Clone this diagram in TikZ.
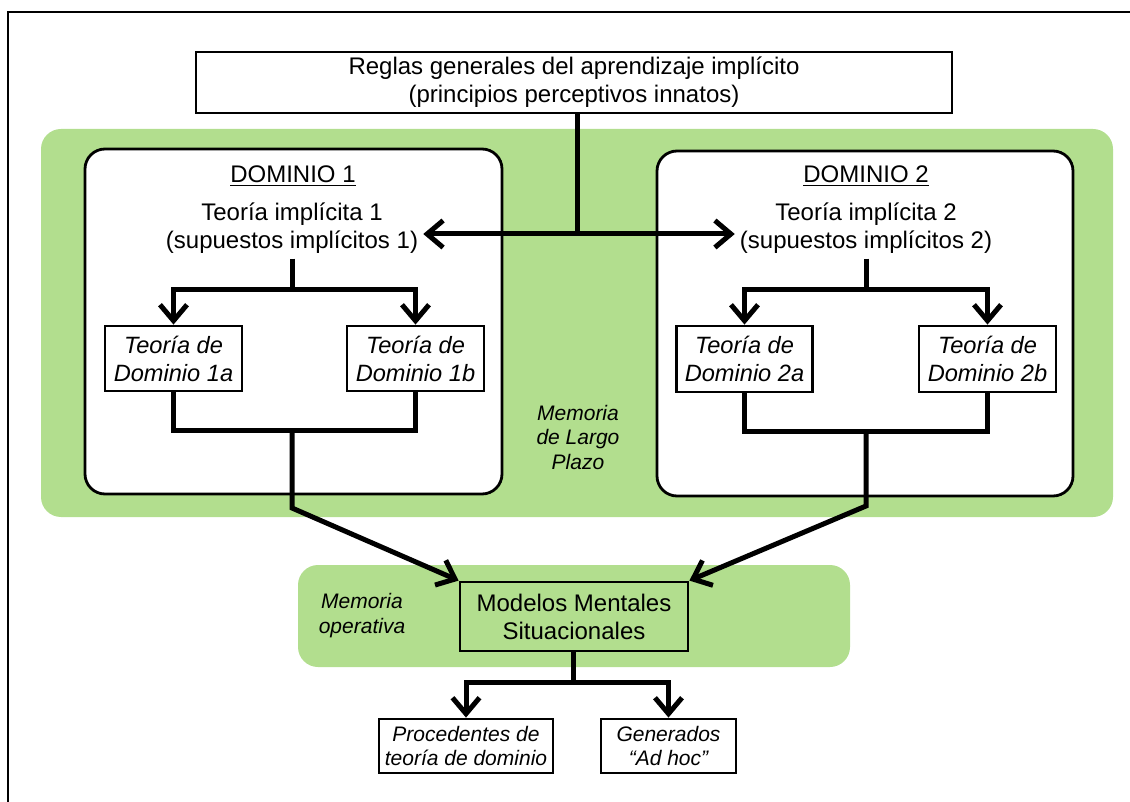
\documentclass[tikz,border=0pt]{standalone}
\usepackage{fontspec}
\setmainfont{Liberation Sans}
\usetikzlibrary{arrows.meta}
\definecolor{memgreen}{RGB}{178,222,142}
\newcommand{\ulined}[1]{\leavevmode\vtop{\hbox{#1}\kern2.2pt\hrule height 1.6pt}}
\begin{document}
\begin{tikzpicture}[x=1pt,y=-1pt,
  boxed/.style={draw, line width=2.8pt, inner sep=0pt, align=center},
  memregion/.style={fill=memgreen, rounded corners=20pt, inner sep=0pt},
  domframe/.style={draw, fill=white, line width=2.8pt, rounded corners=20pt, inner sep=0pt},
  conn/.style={line width=5pt},
  arr/.style={conn, -{Straight Barb[length=16pt,width=27pt]}},
  bigtxt/.style={font=\fontsize{24}{28}\selectfont},
  bigit/.style={font=\fontsize{23.6}{28}\selectfont\itshape},
  italtxt/.style={font=\fontsize{21}{24.5}\selectfont\itshape},
  freetxt/.style={inner sep=5pt, align=center},
]
\useasboundingbox (0,0) rectangle (1130,802);
\clip (0,0) rectangle (1130,802);
% outer frame
\draw[line width=2.8pt] (8,12) rectangle (1140,815);

% regions
\node[memregion, minimum width=1072pt, minimum height=388pt] (ltm) at (577,323) {};
\node[memregion, minimum width=552pt, minimum height=102pt] (wm) at (574,616) {};

% top box
\node[boxed, bigtxt, minimum width=756pt, minimum height=61pt] (rules) at (574,82.5)
  {Reglas generales del aprendizaje implícito\\(principios perceptivos innatos)};

% domain frames
\node[domframe, minimum width=417pt, minimum height=345pt] (dom1) at (293.5,321.5) {};
\node[domframe, minimum width=416pt, minimum height=345pt] (dom2) at (865,323.5) {};

% domain titles
\node[freetxt, bigtxt, inner sep=0pt] (t1) at (293,176) {\ulined{DOMINIO 1}};
\node[freetxt, bigtxt, inner sep=0pt] (t2) at (866,176) {\ulined{DOMINIO 2}};

% implicit theories
\node[freetxt, bigtxt] (ti1) at (292,228) {Teoría implícita 1\\(supuestos implícitos 1)};
\node[freetxt, bigtxt] (ti2) at (866,228) {Teoría implícita 2\\(supuestos implícitos 2)};

% domain theory boxes
\node[boxed, bigit, minimum width=137pt, minimum height=65pt] (d1a) at (173.5,358.5) {Teoría de\\Dominio 1a};
\node[boxed, bigit, minimum width=137pt, minimum height=65pt] (d1b) at (415.5,358.5) {Teoría de\\Dominio 1b};
\node[boxed, bigit, minimum width=136pt, minimum height=66pt] (d2a) at (744.5,359) {Teoría de\\Dominio 2a};
\node[boxed, bigit, minimum width=137pt, minimum height=66pt] (d2b) at (987.5,359) {Teoría de\\Dominio 2b};

% labels
\node[freetxt, italtxt] (ltmlabel) at (578,437) {Memoria\\de Largo\\Plazo};
\node[freetxt, italtxt] (wmlabel) at (362,615.5) {Memoria\\operativa};

% mental models
\node[boxed, bigtxt, fill=memgreen, minimum width=228pt, minimum height=69pt] (mm) at (574,616.5)
  {Modelos Mentales\\Situacionales};

% bottom boxes
\node[boxed, italtxt, minimum width=174pt, minimum height=54pt] (pr) at (466,746)
  {Procedentes de\\teoría de dominio};
\node[boxed, italtxt, minimum width=135pt, minimum height=54pt] (ad) at (668.5,746)
  {Generados\\“Ad hoc”};

% junction coordinates
\coordinate (jt) at (577,234);
\coordinate (b1) at (292,290);
\coordinate (b2) at (866,290);
\coordinate (m1) at (292,430);
\coordinate (m2) at (866,431);
\coordinate (k1) at (292,508);
\coordinate (k2) at (866,506);
\coordinate (j3) at (573,682);

% connectors
\draw[conn] (rules.south -| jt) -- (jt);
\draw[arr] (jt) -- (jt -| ti1.east);
\draw[arr] (jt) -- (jt -| ti2.west);

\draw[conn] (ti1.south -| b1) -- (b1);
\draw[arr] (b1) -| (d1a.north);
\draw[arr] (b1) -| (d1b.north);
\draw[conn] (ti2.south -| b2) -- (b2);
\draw[arr] (b2) -| (d2a.north);
\draw[arr] (b2) -| (d2b.north);

\draw[conn] (d1a.south) |- (m1) -| (d1b.south);
\draw[conn] (d2a.south) |- (m2) -| (d2b.south);
\draw[arr] (m1) -- (k1) -- (mm.north west);
\draw[arr] (m2) -- (k2) -- (mm.north east);

\draw[conn] (mm.south -| j3) -- (j3);
\draw[arr] (j3) -| (pr.north);
\draw[arr] (j3) -| (ad.north);
\end{tikzpicture}
\end{document}
